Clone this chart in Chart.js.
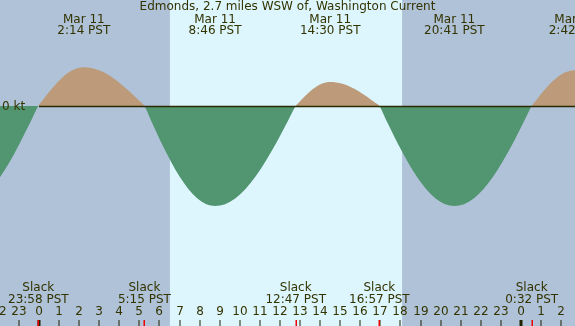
<!DOCTYPE html>
<html>
<head>
<meta charset="utf-8">
<script src="https://cdn.jsdelivr.net/npm/chart.js@4/dist/chart.umd.min.js"></script>
<style>
	html, body { margin: 0; padding: 0; background: #afc2d7; }
	#wrap { width: 575px; height: 326px; }
</style>
</head>
<body>
<div id="wrap"><canvas id="tide" width="575" height="326"></canvas></div>
<script>
// hours after Mar 11 00:00 PST, current in knots (flood +, ebb -)
const hours = [
	-1.94, -1.5, -0.975, -0.41, -0.033,
	0.194, 0.533, 1.1, 1.666, 2.233, 2.987, 3.742, 4.496, 4.948, 5.25,
	5.602, 6.129, 7.009, 7.888, 8.767, 9.771, 10.775, 11.779, 12.381, 12.783,
	12.955, 13.212, 13.642, 14.071, 14.5, 15.113, 15.725, 16.338, 16.705, 16.95,
	17.323, 17.883, 18.817, 19.75, 20.683, 21.646, 22.608, 23.571, 24.148, 24.533,
	24.75, 25.075, 25.617, 26.158, 26.7,
];
const speeds = [
	-1.07, -0.86, -0.57, -0.234, 0,
	0.091, 0.22, 0.41, 0.536, 0.58, 0.536, 0.41, 0.22, 0.091, 0,
	-0.234, -0.574, -1.061, -1.386, -1.5, -1.386, -1.061, -0.574, -0.234, 0,
	0.056, 0.138, 0.255, 0.333, 0.36, 0.333, 0.255, 0.138, 0.056, 0,
	-0.234, -0.574, -1.061, -1.386, -1.5, -1.386, -1.061, -0.574, -0.234, 0,
	0.084, 0.207, 0.382, 0.499, 0.54,
];

const peakHours = [2.233, 8.767, 14.5, 20.683, 26.7];
const peakDates = ['Mar 11', 'Mar 11', 'Mar 11', 'Mar 11', 'Mar 12'];
const peakLabels = ['2:14 PST', '8:46 PST', '14:30 PST', '20:41 PST', '2:42 PST'];

const slackHours = [-0.033, 5.25, 12.783, 16.95, 24.533];
const slackLabels = ['23:58 PST', '5:15 PST', '12:47 PST', '16:57 PST', '0:32 PST'];

const daylight = [6.52, 18.08]; // sunrise, sunset
const title = 'Edmonds, 2.7 miles WSW of, Washington Current';

const FONT = '12px "DejaVu Sans"';
const INK = '#333300';

const decorations = {
	id: 'decorations',
	beforeDraw(chart) {
		const { ctx, scales: { x } } = chart;
		ctx.save();
		ctx.fillStyle = '#afc2d7';
		ctx.fillRect(0, 0, chart.width, chart.height);
		const x0 = x.getPixelForValue(daylight[0]);
		const x1 = x.getPixelForValue(daylight[1]);
		ctx.fillStyle = '#ddf6fe';
		ctx.fillRect(x0, 0, x1 - x0, chart.height);
		ctx.restore();
	},
	afterDatasetsDraw(chart) {
		const { ctx, scales: { x, y } } = chart;
		const zeroY = Math.round(y.getPixelForValue(0)) + 0.5;
		ctx.save();

		// zero line
		ctx.strokeStyle = '#2a2a00';
		ctx.lineWidth = 1.5;
		ctx.beginPath();
		ctx.moveTo(x.getPixelForValue(0), zeroY);
		ctx.lineTo(chart.width, zeroY);
		ctx.stroke();

		ctx.font = FONT;
		ctx.fillStyle = INK;
		ctx.textBaseline = 'middle';
		ctx.textAlign = 'left';
		ctx.fillText('0 kt', 2, zeroY);

		ctx.textAlign = 'center';
		ctx.fillText(title, chart.width / 2, 7);

		peakHours.forEach((h, i) => {
			const px = x.getPixelForValue(h);
			ctx.fillText(peakDates[i], px, 19.5);
			ctx.fillText(peakLabels[i], px, 31);
		});

		slackHours.forEach((h, i) => {
			const px = x.getPixelForValue(h);
			ctx.fillText('Slack', px, 288);
			ctx.fillText(slackLabels[i], px, 299.5);
		});

		// hour ticks
		for (let h = Math.floor(x.min); h <= Math.ceil(x.max); h++) {
			const px = Math.round(x.getPixelForValue(h));
			const hh = ((h % 24) + 24) % 24;
			ctx.fillStyle = INK;
			ctx.fillText(String(hh), px, 311.5);
			ctx.fillStyle = '#222200';
			if (hh === 0) ctx.fillRect(px - 1.5, 320, 3, 6);
			else ctx.fillRect(px - 0.5, 320, 1, 6);
		}
		ctx.fillStyle = '#ee0000';
		slackHours.forEach((h) => {
			const px = Math.round(x.getPixelForValue(h));
			ctx.fillRect(px - 0.5, 320, 1.5, 6);
		});

		ctx.restore();
	},
};

new Chart(document.getElementById('tide').getContext('2d'), {
	type: 'line',
	data: {
		datasets: [
			{
				data: hours.map((h, i) => ({ x: h, y: speeds[i] })),
				borderWidth: 0,
				borderColor: 'rgba(0,0,0,0)',
				pointRadius: 0,
				cubicInterpolationMode: 'monotone',
				fill: { target: { value: 0 }, above: '#bd9b7a', below: '#529671' },
			},
		],
	},
	options: {
		responsive: false,
		animation: false,
		events: [],
		layout: { padding: 0 },
		plugins: { legend: { display: false }, tooltip: { enabled: false } },
		scales: {
			x: { type: 'linear', min: -1.94, max: 26.69, display: false },
			y: { min: -3.3, max: 1.59, display: false },
		},
	},
	plugins: [decorations],
});
</script>
</body>
</html>
